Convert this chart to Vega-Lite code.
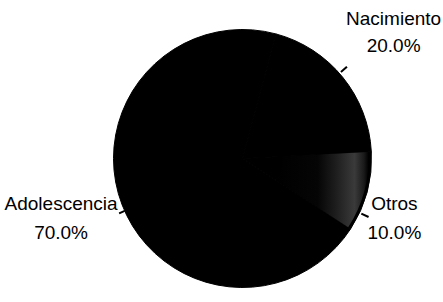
{
  "$schema": "https://vega.github.io/schema/vega-lite/v6.json",
  "width": 400,
  "height": 284,
  "autosize": "none",
  "padding": {"left": 42.5, "top": 16.5, "right": 0, "bottom": 0},
  "background": "white",
  "view": {"stroke": null},
  "data": {
    "values": [
      {"categoria": "Nacimiento", "valor": 20, "orden": 1},
      {"categoria": "Otros", "valor": 10, "orden": 2},
      {"categoria": "Adolescencia", "valor": 70, "orden": 3}
    ]
  },
  "transform": [
    {"stack": "valor", "groupby": [], "sort": [{"field": "orden"}], "as": ["v0", "v1"]},
    {"calculate": "(datum.v0 + datum.v1) / 2", "as": "mid"},
    {"calculate": "datum.mid - 0.12", "as": "t0"},
    {"calculate": "datum.mid + 0.12", "as": "t1"},
    {"calculate": "[datum.categoria, format(datum.valor / 100, '.1%')]", "as": "etiqueta"}
  ],
  "layer": [
    {
      "mark": {"type": "arc", "radius": 129, "stroke": "#000000", "strokeWidth": 1},
      "encoding": {
        "theta": {"field": "v0", "type": "quantitative", "scale": {"domain": [0, 100], "range": [0.2618, 6.5450]}},
        "theta2": {"field": "v1"},
        "color": {"field": "categoria", "type": "nominal", "scale": {"domain": ["Nacimiento", "Otros", "Adolescencia"], "range": ["#000000", "#000000", "#000000"]}, "legend": null}
      }
    },
    {
      "transform": [{"filter": "datum.categoria == 'Otros'"}],
      "mark": {
        "type": "arc", "radius": 126, "radius2": 40, "stroke": null,
        "color": {"gradient": "linear", "x1": 0, "y1": 0, "x2": 1, "y2": 0,
          "stops": [
            {"offset": 0, "color": "#000000"},
            {"offset": 0.45, "color": "#050505"},
            {"offset": 0.65, "color": "#1e1e1e"},
            {"offset": 0.85, "color": "#3a3a3a"},
            {"offset": 0.95, "color": "#1a1a1a"},
            {"offset": 1, "color": "#000000"}
          ]}
      },
      "encoding": {
        "theta": {"field": "v0", "type": "quantitative", "scale": {"domain": [0, 100], "range": [0.2618, 6.5450]}},
        "theta2": {"field": "v1"}
      }
    },
    {
      "transform": [{"filter": "datum.categoria == 'Nacimiento'"}],
      "layer": [
        {
          "mark": {"type": "arc", "radius": 139, "radius2": 131, "color": "black", "thetaOffset": -0.04, "theta2Offset": -0.04},
          "encoding": {
            "theta": {"field": "t0", "type": "quantitative", "scale": {"domain": [0, 100], "range": [0.2618, 6.5450]}},
            "theta2": {"field": "t1"}
          }
        },
        {
          "mark": {"type": "text", "radius": 197, "thetaOffset": -0.016, "dy": -13.5, "font": "Liberation Sans", "fontSize": 19, "lineHeight": 27, "align": "center", "baseline": "middle", "color": "black"},
          "encoding": {
            "theta": {"field": "mid", "type": "quantitative", "scale": {"domain": [0, 100], "range": [0.2618, 6.5450]}},
            "text": {"field": "etiqueta"}
          }
        }
      ]
    },
    {
      "transform": [{"filter": "datum.categoria == 'Otros'"}],
      "layer": [
        {
          "mark": {"type": "arc", "radius": 139, "radius2": 131, "color": "black", "thetaOffset": 0.173, "theta2Offset": 0.173},
          "encoding": {
            "theta": {"field": "t0", "type": "quantitative", "scale": {"domain": [0, 100], "range": [0.2618, 6.5450]}},
            "theta2": {"field": "t1"}
          }
        },
        {
          "mark": {"type": "text", "radius": 163, "thetaOffset": 0.11, "dy": -14, "font": "Liberation Sans", "fontSize": 19, "lineHeight": 29, "align": "center", "baseline": "middle", "color": "black"},
          "encoding": {
            "theta": {"field": "mid", "type": "quantitative", "scale": {"domain": [0, 100], "range": [0.2618, 6.5450]}},
            "text": {"field": "etiqueta"}
          }
        }
      ]
    },
    {
      "transform": [{"filter": "datum.categoria == 'Adolescencia'"}],
      "layer": [
        {
          "mark": {"type": "arc", "radius": 135, "radius2": 129, "color": "black", "thetaOffset": -0.052, "theta2Offset": -0.052},
          "encoding": {
            "theta": {"field": "t0", "type": "quantitative", "scale": {"domain": [0, 100], "range": [0.2618, 6.5450]}},
            "theta2": {"field": "t1"}
          }
        },
        {
          "mark": {"type": "text", "radius": 187, "thetaOffset": 0.045, "dx": -4, "dy": -14, "font": "Liberation Sans", "fontSize": 19, "lineHeight": 29, "align": "center", "baseline": "middle", "color": "black"},
          "encoding": {
            "theta": {"field": "mid", "type": "quantitative", "scale": {"domain": [0, 100], "range": [0.2618, 6.5450]}},
            "text": {"field": "etiqueta"}
          }
        }
      ]
    }
  ]
}
